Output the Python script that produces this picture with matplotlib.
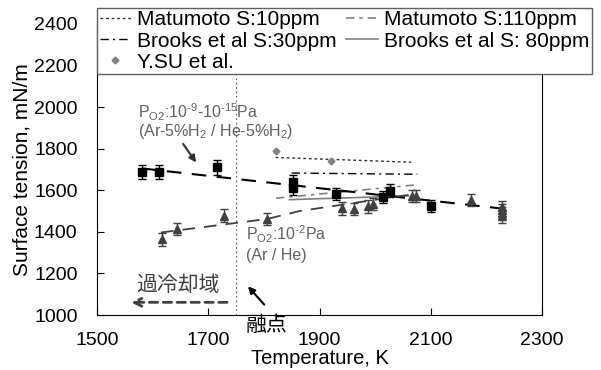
import matplotlib
matplotlib.use("Agg")
import matplotlib.pyplot as plt

plt.rcParams['font.family'] = ['Liberation Sans', 'Noto Sans CJK JP', 'DejaVu Sans']
plt.rcParams['mathtext.fontset'] = 'custom'
plt.rcParams['mathtext.rm'] = 'Liberation Sans'
plt.rcParams['mathtext.it'] = 'Liberation Sans:italic'

# ---- data ----
sq_T = [1581, 1612, 1715, 1852, 1852, 1930, 2014, 2026, 2101]
sq_S = [1688, 1688, 1710, 1640, 1611, 1583, 1567, 1598, 1525]
sq_err = [35, 35, 35, 35, 35, 30, 30, 30, 30]

tri_T = [1617, 1644, 1728, 1806, 1940, 1962, 1987, 1997, 2066, 2074, 2173,
         2228, 2228, 2228, 2228]
tri_S = [1364, 1414, 1478, 1462, 1513, 1511, 1522, 1535, 1573, 1573, 1554,
         1520, 1505, 1490, 1475]
tri_err = [30] * len(tri_T)

fit_sq_T = [1581, 2235]
fit_sq_S = [1705, 1510]
fit_tri_T = [1615, 1806, 1864, 2060]
fit_tri_S = [1397, 1462, 1500, 1578]

mat10_T = [1821, 2065]
mat10_S = [1758, 1735]
mat110_T = [1822, 2077]
mat110_S = [1562, 1627]
br30_T = [1850, 2076]
br30_S = [1683, 1677]
br80_T = [1846, 2060]
br80_S = [1555, 1573]
ysu_T = [1821, 1921]
ysu_S = [1790, 1742]

melt_T = 1750
x_ticks = [1500, 1700, 1900, 2100, 2300]
y_ticks = [1000, 1200, 1400, 1600, 1800, 2000, 2200, 2400]

fig = plt.figure(figsize=(6.01, 3.70), dpi=100)
ax = fig.add_axes([97/601, 1-315/370, 445/601, 291/370])

gray = '#404040'
lgray = '#808080'

# literature lines
l1, = ax.plot(mat10_T, mat10_S, color='#303030', lw=1.0, ls=(0, (2, 2)), label='Matumoto S:10ppm')
l2, = ax.plot(br30_T, br30_S, color='black', lw=1.0, ls=(0, (6, 3, 1.5, 3)), label='Brooks et al S:30ppm')
l3, = ax.plot(ysu_T, ysu_S, ls='none', marker='D', ms=3.5, color=lgray, label='Y.SU et al.')
l4, = ax.plot(mat110_T, mat110_S, color=lgray, lw=1.2, ls=(0, (5, 3, 2, 3)), label='Matumoto S:110ppm')
l5, = ax.plot(br80_T, br80_S, color=lgray, lw=1.2, ls='-', label='Brooks et al S: 80ppm')

# fit lines
ax.plot(fit_sq_T, fit_sq_S, color='black', lw=1.5, ls=(0, (7, 5)))
ax.plot(fit_tri_T, fit_tri_S, color=gray, lw=1.3, ls=(0, (7, 5)))

# data with error bars
ax.errorbar(sq_T, sq_S, yerr=sq_err, fmt='s', color='black', ms=5.5,
            capsize=3, elinewidth=1, capthick=1, zorder=5)
ax.errorbar(tri_T, tri_S, yerr=tri_err, fmt='^', color=gray, ms=5.5,
            capsize=3, elinewidth=1, capthick=1, zorder=5)

# melting point
ax.axvline(melt_T, color='#606060', lw=0.8, ls=(0, (1.5, 2.5)), zorder=1)

ax.set_xlim(1500, 2300)
ax.set_ylim(1000, 2400)
ax.set_xticks(x_ticks)
ax.set_yticks(y_ticks)
ax.tick_params(direction='in', length=5, labelsize=14)
ax.tick_params(axis='x', pad=12)
ax.tick_params(axis='y', pad=14)
ax.set_xlabel('Temperature, K', fontsize=14.5, labelpad=0)
ax.set_ylabel('Surface tension, mN/m', fontsize=15, labelpad=2)

# annotations
ax.text(1573, 1973, r'P$_{\rm O2}$:10$^{\text{-9}}$-10$^{\text{-15}}$Pa', fontsize=11.5,
        color='#606060', va='center', ha='left')
ax.text(1573, 1882, r'(Ar-5%H$_{\rm 2}$ / He-5%H$_{\rm 2}$)', fontsize=11.5, color='#606060',
        va='center', ha='left')
ax.annotate('', xy=(1681, 1723), xytext=(1652, 1834),
            arrowprops=dict(arrowstyle='-|>', color='#303030', lw=1.5, mutation_scale=10))

ax.text(1768, 1386, r'P$_{\rm O2}$:10$^{\text{-2}}$Pa', fontsize=11.5, color='#606060',
        va='center', ha='left')
ax.text(1768, 1284, '(Ar / He)', fontsize=11.5, color='#606060', va='center', ha='left')

ax.text(1646, 1145, '過冷却域', fontsize=15, color=gray, va='center', ha='center',
        family=['Noto Sans CJK JP'])
ax.annotate('', xy=(1556, 1061), xytext=(1739, 1061),
            arrowprops=dict(arrowstyle='->', color=gray, lw=2, ls=(0, (3, 2)),
                            mutation_scale=14))
ax.annotate('', xy=(1768, 1148), xytext=(1804, 1040),
            arrowprops=dict(arrowstyle='-|>', color='black', lw=1.5, mutation_scale=10))
ax.text(1768, 952, '融点', fontsize=15, color='black', va='center', ha='left',
        family=['Noto Sans CJK JP'], clip_on=False)

leg = ax.legend(handles=[l1, l2, l3, l4, l5], ncol=2, loc='upper left',
                bbox_to_anchor=(0.0, 0.835, 1.112, 0.22), mode='expand',
                fontsize=15, frameon=True, fancybox=False, edgecolor='#606060',
                framealpha=1, borderpad=0.12, labelspacing=0.1, handlelength=1.5,
                handletextpad=0.3, columnspacing=0.5, borderaxespad=0)
leg.get_frame().set_linewidth(1.0)
leg.set_zorder(10)

fig.savefig('out.png', dpi=100)
